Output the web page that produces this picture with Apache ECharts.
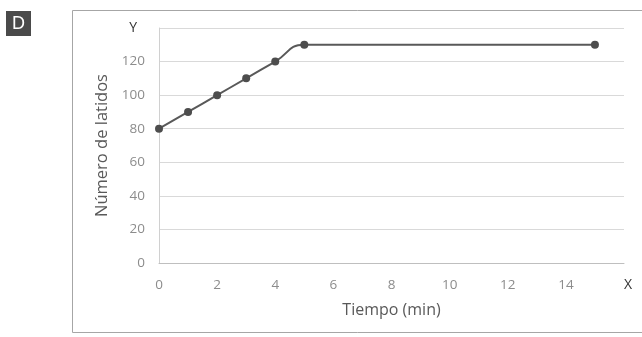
<!DOCTYPE html>
<html>
<head>
<meta charset="utf-8">
<script src="https://cdn.jsdelivr.net/npm/echarts@6/dist/echarts.min.js"></script>
<style>
  html, body { margin: 0; padding: 0; background: #fff; }
  #chart { width: 642px; height: 337px; }
</style>
</head>
<body>
<div id="chart"></div>
<script>
// Heart rate over time
const tiempo = [0, 1, 2, 3, 4, 5, 15];
const latidos = [80, 90, 100, 110, 120, 130, 130];
const xTicks = { min: 0, max: 16, step: 2, endLabel: 'X' };
const yTicks = { min: 0, max: 140, step: 20, endLabel: 'Y' };
const xTitle = 'Tiempo (min)';
const yTitle = 'Número de latidos';
const panelTag = 'D';

const points = tiempo.map((t, i) => [t, latidos[i]]);
const FONT = '"Open Sans", "Liberation Sans", sans-serif';

const chart = echarts.init(document.getElementById('chart'), null, { renderer: 'canvas' });
chart.setOption({
  animation: false,
  backgroundColor: '#fff',
  grid: { left: 159, right: 18, top: 28, bottom: 74, containLabel: false },
  graphic: [
    {
      type: 'rect', silent: true, z: -1,
      shape: { x: 72.5, y: 10.5, width: 600, height: 322 },
      style: { fill: 'none', stroke: '#a6a6a6', lineWidth: 1 }
    },
    {
      type: 'rect', silent: true,
      shape: { x: 6, y: 11, width: 25, height: 25 },
      style: { fill: '#4a4a4a' }
    },
    {
      type: 'text', silent: true,
      style: {
        x: 18.5, y: 24, text: panelTag, fill: '#fff',
        font: '18px "Liberation Sans Narrow", "Liberation Sans", sans-serif',
        textAlign: 'center', textVerticalAlign: 'middle'
      }
    }
  ],
  xAxis: {
    type: 'value',
    min: xTicks.min, max: xTicks.max, interval: xTicks.step,
    name: xTitle,
    nameLocation: 'middle',
    nameGap: 39,
    nameTextStyle: { color: '#595959', fontSize: 16, fontFamily: FONT },
    axisLine: { show: true, lineStyle: { color: '#bfbfbf', width: 1 } },
    axisTick: { show: false },
    splitLine: { show: false },
    axisLabel: {
      margin: 15,
      color: '#8c8c8c', fontSize: 13.5, fontFamily: FONT,
      formatter: v => v === xTicks.max ? '{end|' + xTicks.endLabel + '}' : String(v),
      rich: { end: { color: '#333', fontSize: 14, fontFamily: FONT, padding: [0, 0, 0, 8] } }
    }
  },
  yAxis: {
    type: 'value',
    min: yTicks.min, max: yTicks.max, interval: yTicks.step,
    name: yTitle,
    nameLocation: 'middle',
    nameGap: 46,
    nameTextStyle: { color: '#595959', fontSize: 16.5, fontFamily: FONT },
    axisLine: { show: true, lineStyle: { color: '#d0d0d0', width: 1 } },
    axisTick: { show: false },
    splitLine: { show: true, lineStyle: { color: '#d9d9d9', width: 1 } },
    axisLabel: {
      margin: 14,
      color: '#8c8c8c', fontSize: 13.5, fontFamily: FONT,
      formatter: v => v === yTicks.max ? '{end|' + yTicks.endLabel + '}' : String(v),
      rich: { end: { color: '#333', fontSize: 14, fontFamily: FONT, padding: [0, 8, 0, 0] } }
    }
  },
  series: [{
    type: 'line',
    data: points,
    smooth: 0.5,
    symbol: 'circle',
    symbolSize: 8,
    lineStyle: { color: '#595959', width: 2 },
    itemStyle: { color: '#4d4d4d' }
  }]
});
</script>
</body>
</html>
